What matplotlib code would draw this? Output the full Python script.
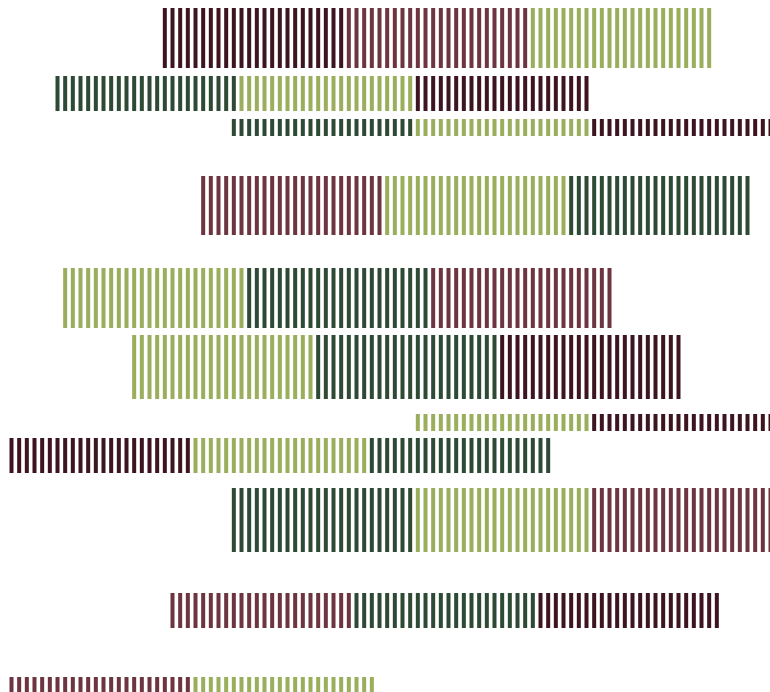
import numpy as np
from matplotlib import pyplot as plt

# colours
palette = {
    "dm": "#3d1520",   # dark maroon
    "m":  "#6c3540",   # maroon
    "lg": "#9aae5c",   # olive green
    "dg": "#2e4a35",   # dark green
}

# each row: start value, segment sizes, segment colours (x in stripe units)
row_start = [21, 7, 30, 26, 8, 17, 54, 1, 30, 22, 1]
row_values = [
    [24, 24, 24],
    [24, 23, 23],
    [24, 23, 24],
    [24, 24, 24],
    [24, 24, 24],
    [24, 24, 24],
    [23, 24],
    [24, 23, 24],
    [24, 23, 24],
    [24, 24, 24],
    [24, 24],
]
row_colors = [
    ["dm", "m", "lg"],
    ["dg", "lg", "dm"],
    ["dg", "lg", "dm"],
    ["m", "lg", "dg"],
    ["lg", "dg", "m"],
    ["lg", "dg", "dm"],
    ["lg", "dm"],
    ["dm", "lg", "dg"],
    ["dg", "lg", "m"],
    ["m", "dg", "dm"],
    ["m", "lg"],
]

# row placement (centre, thickness)
row_pos = [38, 93.5, 127.5, 205.5, 298, 367, 422.5, 455.5, 520, 610, 685.5]
row_thick = [60, 35, 17, 59, 60, 64, 17, 35, 64, 35, 17]

dpi = 92
stripe = dpi / 12          # hatch '||' -> 12 lines per inch
plt.rcParams['hatch.linewidth'] = 4.0 * 72 / dpi

fig = plt.figure(figsize=(770 / dpi, 692 / dpi), dpi=dpi)
ax = fig.add_axes([0, 0, 1, 1])

for i in range(len(row_start)):
    left = row_start[i]
    for w, c in zip(row_values[i], row_colors[i]):
        ax.barh(row_pos[i], w, left=left, height=row_thick[i],
                color='none', edgecolor=palette[c], hatch='||', linewidth=0)
        left += w

ax.set_xlim(0, 770 / stripe)
ax.set_ylim(692, 0)
ax.axis('off')

fig.savefig('out.png', dpi=dpi)
